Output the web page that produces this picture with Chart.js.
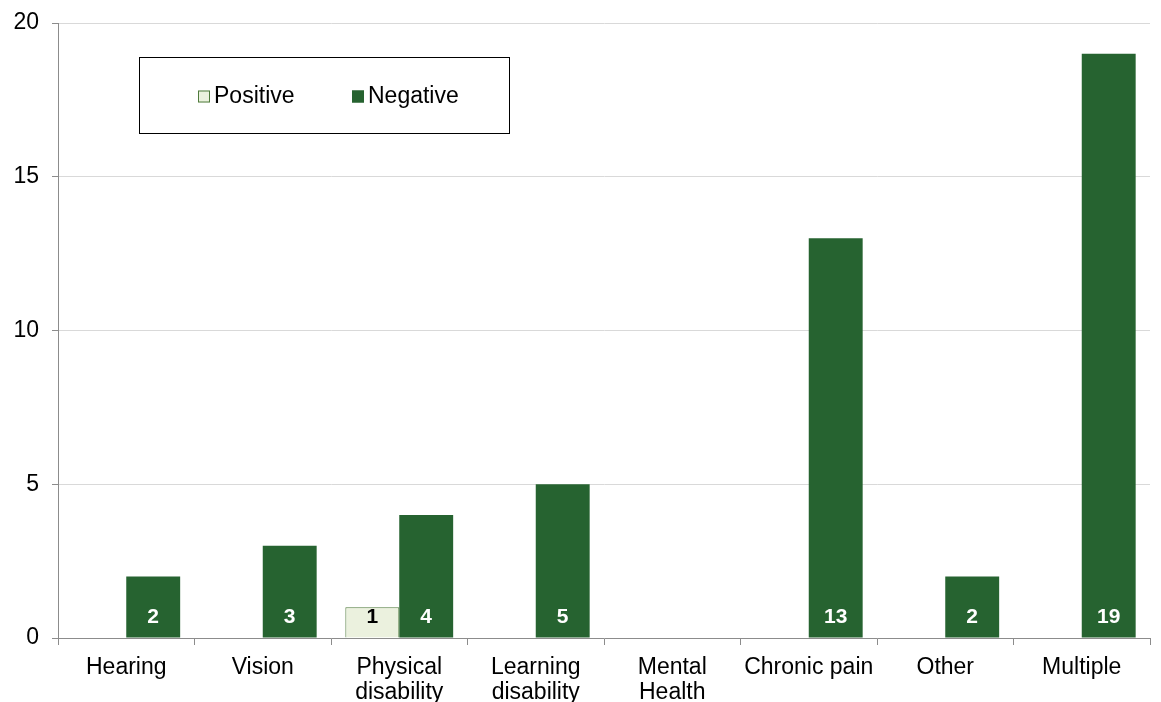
<!DOCTYPE html>
<html>
<head>
<meta charset="utf-8">
<script src="https://cdn.jsdelivr.net/npm/chart.js@4.4.1/dist/chart.umd.min.js"></script>
<style>
  html, body { margin: 0; padding: 0; background: #ffffff; overflow: hidden; }
  #wrap { width: 1161px; height: 702px; position: relative; overflow: hidden; }
</style>
</head>
<body>
<div id="wrap"><canvas id="chart" width="1161" height="702"></canvas></div>
<script>
const categories = [
  'Hearing', 'Vision', ['Physical', 'disability'], ['Learning', 'disability'],
  ['Mental', 'Health'], 'Chronic pain', 'Other', 'Multiple'
];
const positiveValues = [null, null, 1, null, null, null, null, null];
const negativeValues = [2, 3, 4, 5, 0, 13, 2, 19];
const yTicks = [0, 5, 10, 15, 20];

const FONT = '"Liberation Sans", Arial, sans-serif';
const DARK_GREEN = '#266330';
const LIGHT_GREEN = '#EBF1DE';

// Value labels drawn inside the foot of each bar
const barLabels = {
  id: 'barLabels',
  afterDatasetsDraw(chart) {
    const ctx = chart.ctx;
    ctx.save();
    ctx.font = 'bold 21px ' + FONT;
    ctx.textAlign = 'center';
    ctx.textBaseline = 'middle';
    chart.data.datasets.forEach((ds, i) => {
      const meta = chart.getDatasetMeta(i);
      meta.data.forEach((bar, j) => {
        const v = ds.data[j];
        if (v === null || v === 0) return;
        ctx.fillStyle = ds.labelColor;
        ctx.fillText(String(v), bar.x, bar.base - 20);
      });
    });
    ctx.restore();
  }
};

// Boxed legend placed inside the plot area
const boxLegend = {
  id: 'boxLegend',
  afterDraw(chart) {
    const ctx = chart.ctx;
    const x0 = 139.5, y0 = 57.5, w = 370, h = 76;
    ctx.save();
    ctx.fillStyle = '#ffffff';
    ctx.fillRect(x0, y0, w, h);
    ctx.strokeStyle = '#000000';
    ctx.lineWidth = 1;
    ctx.strokeRect(x0, y0, w, h);
    ctx.font = '23px ' + FONT;
    ctx.textBaseline = 'middle';
    ctx.textAlign = 'left';
    const cy = y0 + h / 2 + 1;
    const items = [{ x: 198, ds: chart.data.datasets[0] }, { x: 352, ds: chart.data.datasets[1] }];
    items.forEach(it => {
      ctx.fillStyle = it.ds.backgroundColor;
      ctx.fillRect(it.x, cy - 6, 12, 12);
      ctx.strokeStyle = it.ds.borderColor;
      ctx.lineWidth = 1;
      ctx.strokeRect(it.x + 0.5, cy - 5.5, 11, 11);
      ctx.fillStyle = '#000000';
      ctx.fillText(it.ds.label, it.x + 16, cy);
    });
    ctx.restore();
  }
};

new Chart(document.getElementById('chart'), {
  type: 'bar',
  data: {
    labels: categories,
    datasets: [
      {
        label: 'Positive',
        data: positiveValues,
        backgroundColor: LIGHT_GREEN,
        borderColor: '#4F7A3C',
        borderWidth: 1,
        labelColor: '#000000'
      },
      {
        label: 'Negative',
        data: negativeValues,
        backgroundColor: DARK_GREEN,
        borderColor: '#266330',
        borderWidth: 0,
        labelColor: '#ffffff'
      }
    ]
  },
  options: {
    responsive: false,
    animation: false,
    devicePixelRatio: 1,
    layout: { padding: { top: 23, right: 11, left: 0, bottom: 0 } },
    datasets: { bar: { categoryPercentage: 0.79, barPercentage: 1.0 } },
    plugins: {
      legend: { display: false },
      tooltip: { enabled: false }
    },
    scales: {
      x: {
        afterFit(scale) { scale.height = 64; },
        grid: {
          offset: true,
          drawOnChartArea: false,
          drawTicks: true,
          tickLength: 7,
          tickColor: '#8c8c8c'
        },
        border: { color: '#8c8c8c', width: 1 },
        ticks: {
          color: '#000000',
          font: { family: FONT, size: 23, lineHeight: 1.1 },
          padding: 10,
          maxRotation: 0,
          autoSkip: false
        }
      },
      y: {
        min: 0,
        max: 20,
        afterBuildTicks(scale) { scale.ticks = yTicks.map(v => ({ value: v })); },
        afterFit(scale) {
          scale.width = 58;
          scale.paddingTop = 0;
          scale.paddingBottom = 0;
        },
        grid: {
          color: '#d9d9d9',
          tickColor: '#8c8c8c',
          tickLength: 6,
          drawTicks: true
        },
        border: { color: '#8c8c8c', width: 1 },
        ticks: {
          color: '#000000',
          font: { family: FONT, size: 23 },
          padding: 13
        }
      }
    }
  },
  plugins: [barLabels, boxLegend]
});
</script>
</body>
</html>
